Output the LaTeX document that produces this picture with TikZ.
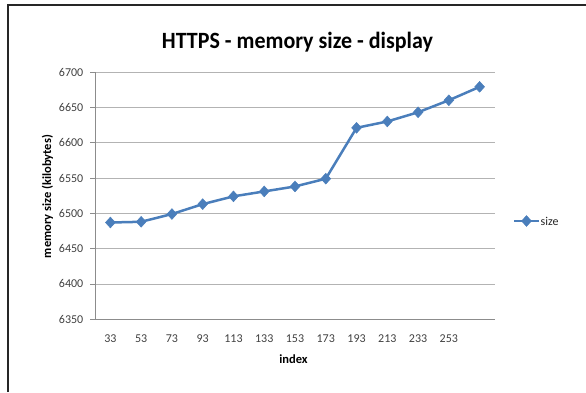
\documentclass[tikz,border=0pt]{standalone}
\usepackage{fontspec}
\setmainfont{Carlito}
\usetikzlibrary{shapes.geometric}
\definecolor{serblue}{HTML}{4A7EBB}
\definecolor{gridgray}{HTML}{B3B3B3}
\definecolor{axisgray}{HTML}{8C8C8C}
\definecolor{ticktext}{HTML}{404040}
\tikzset{
  gridline/.style={draw=gridgray, line width=0.9pt},
  axisline/.style={draw=axisgray, line width=0.9pt},
  ticklab/.style={font=\fontsize{12}{12}\selectfont, text=ticktext, inner sep=0pt},
  axtitle/.style={font=\bfseries\fontsize{12.5}{12.5}\selectfont, inner sep=0pt},
  series/.style={draw=serblue, line width=2.5pt, line join=round},
  marker/.style={diamond, fill=serblue, draw=serblue, line width=0.5pt, minimum width=10pt, minimum height=11pt, inner sep=0pt},
  frameline/.style={draw=black!85, line width=1.6pt}
}
\begin{document}
\begin{tikzpicture}[x=1pt,y=-1pt]
\useasboundingbox (0,0) rectangle (586,392);
% outer frame (top and left edges visible)
\coordinate (fbl) at (8,392);
\coordinate (ftl) at (8,5);
\coordinate (ftr) at (586,5);
\draw[frameline] (fbl) -- (ftl) -- (ftr);
% title
\node[font=\bfseries\fontsize{22}{22}\selectfont, inner sep=0pt, anchor=base, yscale=1.06] (title) at (297.5,48.3) {HTTPS - memory size - display};
% gridlines and y tick labels
\foreach \k/\lab in {0/6700,1/6650,2/6600,3/6550,4/6500,5/6450,6/6400,7/6350}{
  \coordinate (gl\k) at (95,{72+\k*35.33});
  \coordinate (gr\k) at (495,{72+\k*35.33});
  \coordinate (gt\k) at (90,{72+\k*35.33});
  \draw[gridline] (gl\k) -- (gr\k);
  \draw[axisline] (gt\k) -- (gl\k);
  \node[ticklab, anchor=east] (yl\k) at (83.5,{72+\k*35.33}) {\lab};
}
% axes
\draw[axisline] (gl0) -- (gl7);
\draw[axisline] (gl7) -- (gr7);
% x tick labels
\foreach \i/\lab in {1/33,2/53,3/73,4/93,5/113,6/133,7/153,8/173,9/193,10/213,11/233,12/253}{
  \node[ticklab] (xl\i) at ({95+(\i-0.5)*30.769},338.5) {\lab};
}
% axis titles
\node[axtitle] (xt) at (293.5,359.5) {index};
\node[axtitle, rotate=90] (yt) at (47.5,196.5) {memory size (kilobytes)};
% data
\foreach \i/\v in {1/6487,2/6488,3/6499,4/6513,5/6524,6/6531,7/6538,8/6549,9/6621,10/6630,11/6643,12/6660,13/6679}{
  \coordinate (p\i) at ({95+(\i-0.5)*30.769},{319.3-(\v-6350)*0.70657});
}
\draw[series] (p1) -- (p2) -- (p3) -- (p4) -- (p5) -- (p6) -- (p7) -- (p8) -- (p9) -- (p10) -- (p11) -- (p12) -- (p13);
\foreach \i in {1,...,13}{
  \node[marker] (m\i) at (p\i) {};
}
% legend
\coordinate (lg1) at (514,221);
\coordinate (lg2) at (539,221);
\draw[series] (lg1) -- (lg2);
\node[marker] (lgm) at (526.5,221) {};
\node[ticklab, text=black!85, anchor=west] (lgt) at (540.5,221) {size};
\end{tikzpicture}
\end{document}
